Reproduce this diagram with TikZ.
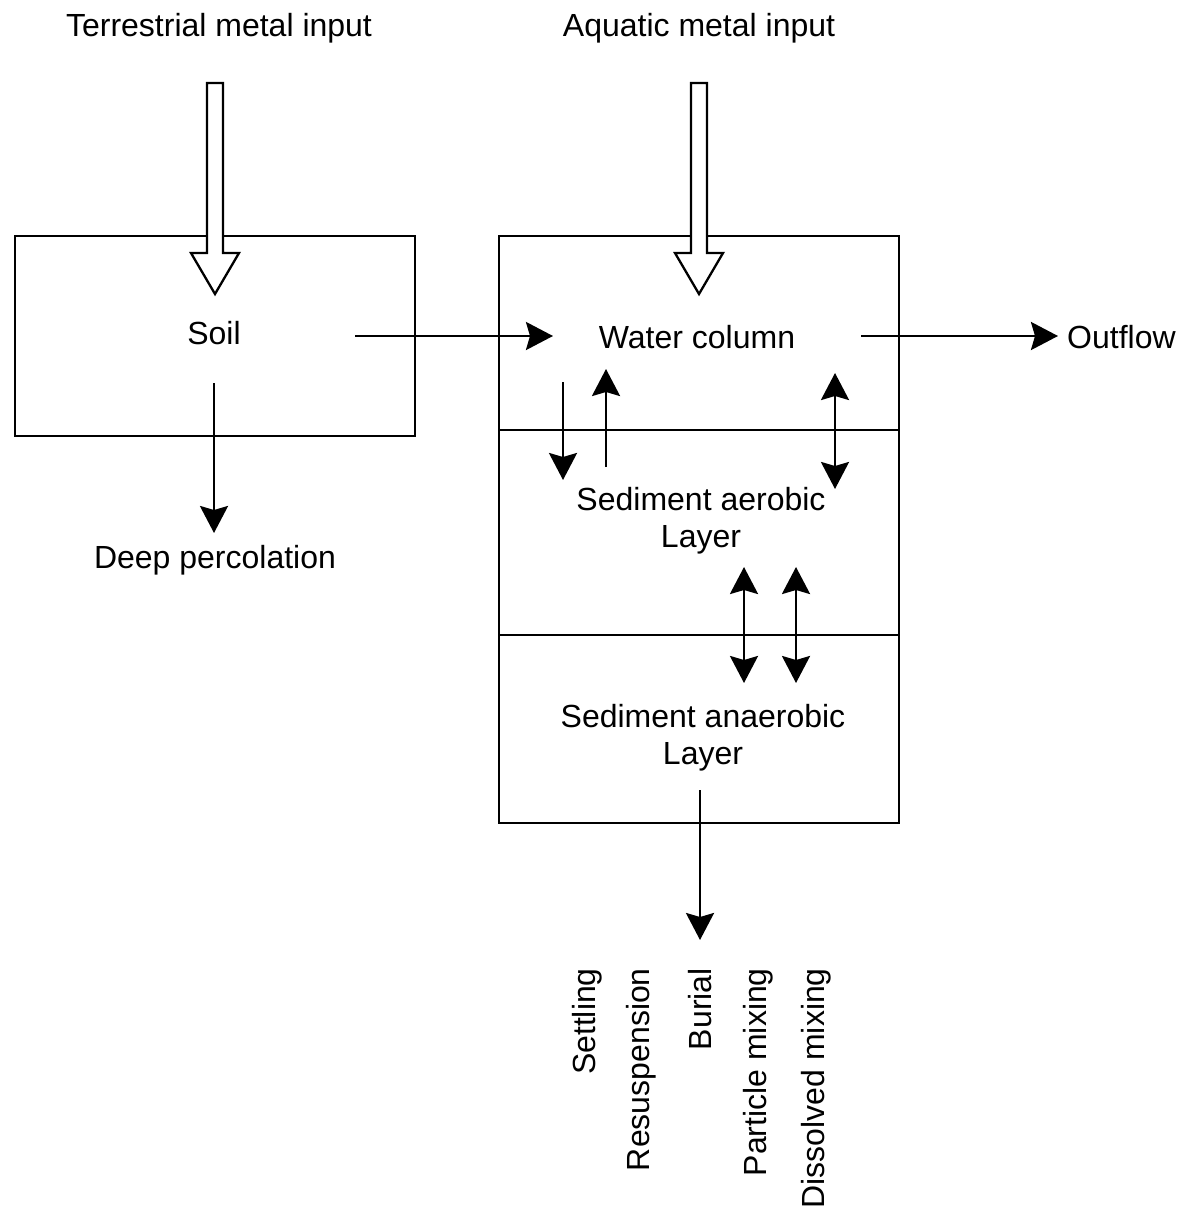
\documentclass[tikz,border=0pt]{standalone}
\usepackage{fontspec}
\setmainfont{Liberation Sans}
\usetikzlibrary{arrows.meta}
\begin{document}
\begin{tikzpicture}[x=1pt,y=-1pt,
  lbl/.style={font=\fontsize{32}{37}\selectfont, inner sep=0pt, align=center},
  vlbl/.style={lbl, rotate=90, anchor=east},
  box/.style={draw, line width=2.3pt, inner sep=0pt},
  tip/.style={Stealth[length=27pt,width=28pt,inset=4pt]},
  flow/.style={line width=2.7pt, -{Stealth[length=27pt,width=28pt,inset=4pt]}},
  both/.style={line width=2.7pt, {Stealth[length=27pt,width=28pt,inset=4pt]}-{Stealth[length=27pt,width=28pt,inset=4pt]}},
  hollow/.style={draw, fill=white, line width=2.3pt, line join=miter}]
\useasboundingbox (0,0) rectangle (1181,1209);

% compartments
\node[box, minimum width=400pt, minimum height=200pt] (soilbox) at (215,336) {};
\node[box, minimum width=400pt, minimum height=194pt] (waterbox) at (699,333) {};
\node[box, minimum width=400pt, minimum height=205pt] (aerobox) at (699,532.5) {};
\node[box, minimum width=400pt, minimum height=188pt] (anaerobox) at (699,729) {};

% external inputs (hollow arrows)
\node[lbl] (terr) at (219,28) {Terrestrial metal input};
\node[lbl] (aqua) at (699,28) {Aquatic metal input};
\draw[hollow] (207,83) -- (223,83) -- (223,253) -- (239,253) -- (215,294)
  -- (191,253) -- (207,253) -- cycle;
\draw[hollow] (691,83) -- (707,83) -- (707,253) -- (723,253) -- (699,294)
  -- (675,253) -- (691,253) -- cycle;

% compartment labels
\node[lbl] (soil) at (214,333) {Soil};
\node[lbl] (water) at (697,337) {Water column};
\node[lbl] (aero) at (701,521) {Sediment aerobic\\Layer};
\node[lbl] (anaero) at (703,738) {Sediment anaerobic\\Layer};
\node[lbl] (perc) at (215,560) {Deep percolation};
\node[lbl, anchor=west] (out) at (1067,337) {Outflow};

% anchor points of the transfers
\coordinate (s1) at (355,336);
\coordinate (w1) at (553,336);
\coordinate (w2) at (861,336);
\coordinate (o1) at (1058,336);
\coordinate (s2) at (214,383);
\coordinate (p1) at (214,533);
\coordinate (st1) at (563,382);
\coordinate (st2) at (563,480);
\coordinate (rs1) at (606,467);
\coordinate (rs2) at (606,369);
\coordinate (dm1) at (835,373);
\coordinate (dm2) at (835,489);
\coordinate (pm1) at (744,567);
\coordinate (pm2) at (744,683);
\coordinate (dd1) at (796,567);
\coordinate (dd2) at (796,683);
\coordinate (b1) at (700,790);
\coordinate (b2) at (700,940);

% transfers
\draw[flow] (s1) -- (w1);
\draw[flow] (w2) -- (o1);
\draw[flow] (s2) -- (p1);
\draw[flow] (st1) -- (st2);
\draw[flow] (rs1) -- (rs2);
\draw[both] (dm1) -- (dm2);
\draw[both] (pm1) -- (pm2);
\draw[both] (dd1) -- (dd2);
\draw[flow] (b1) -- (b2);

% process names
\node[vlbl] (settl) at (587,968) {Settling};
\node[vlbl] (resus) at (641,968) {Resuspension};
\node[vlbl] (bur) at (700,968) {Burial};
\node[vlbl] (pmix) at (758,968) {Particle mixing};
\node[vlbl] (dmix) at (816,968) {Dissolved mixing};
\end{tikzpicture}
\end{document}
